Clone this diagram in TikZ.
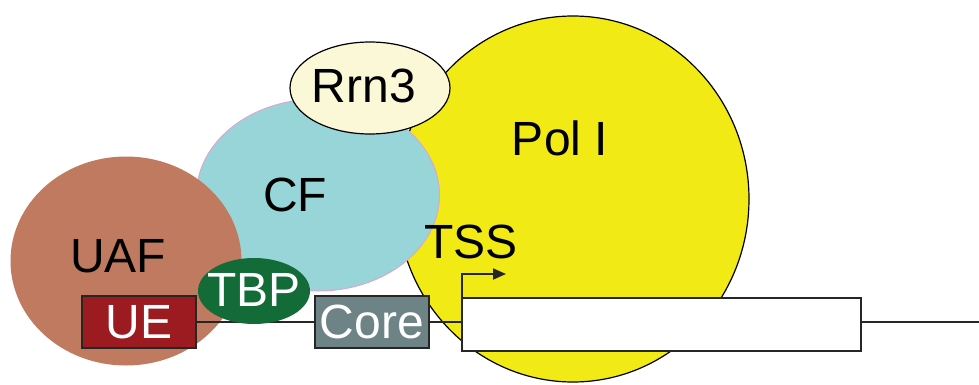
\documentclass[tikz,border=0pt]{standalone}
\usepackage{fontspec}
\setmainfont{Liberation Sans}
\usetikzlibrary{shapes.geometric,arrows.meta}
\definecolor{polY}{HTML}{F2EA14}
\definecolor{cfC}{HTML}{97D5D9}
\definecolor{cfE}{HTML}{D8A8D0}
\definecolor{uafB}{HTML}{C07A60}
\definecolor{rrnY}{HTML}{FBF8D7}
\definecolor{tbpG}{HTML}{136B38}
\definecolor{ueR}{HTML}{9B1B20}
\definecolor{coreG}{HTML}{6E8386}
\tikzset{
  blob/.style={ellipse, inner sep=0pt},
  lbl/.style={inner sep=0pt, font=\fontsize{48}{50}\selectfont},
  wlbl/.style={lbl, text=white},
  elem/.style={draw=black!85, line width=1.8pt, inner sep=0pt},
  dna/.style={draw=black!85, line width=1.8pt}
}
\begin{document}
\begin{tikzpicture}[x=1pt,y=-1pt]
\useasboundingbox (0,0) rectangle (979,385);
% Pol I
\node[blob, fill=polY, draw=black, line width=1.2pt, minimum width=352pt, minimum height=366pt] (pol) at (573,199) {};
% CF
\node[blob, fill=cfC, draw=cfE, line width=1pt, minimum width=243pt, minimum height=192pt] (cf) at (318,195) {};
% UAF
\node[blob, fill=uafB, minimum width=231pt, minimum height=209pt] (uaf) at (126,261) {};
% Rrn3
\node[blob, fill=rrnY, draw=black, line width=1.2pt, minimum width=160pt, minimum height=92pt] (rrn) at (370,88) {};
% labels
\node[lbl] (polt) at (560,138) {Pol I};
\node[lbl] (rrnt) at (364,86) {Rrn3};
\node[lbl] (cft) at (295,195) {CF};
\node[lbl] (uaft) at (118,256) {UAF};
\node[lbl] (tsst) at (471,242) {TSS};
% DNA elements
\node[elem, fill=ueR, minimum width=114pt, minimum height=52pt] (ue) at (139,322) {};
\coordinate (dnaend) at (979,322);
\draw[dna] (ue.east) -- (dnaend);
\node[blob, fill=tbpG, minimum width=112pt, minimum height=66pt] (tbp) at (254,291) {};
\node[wlbl] (tbpt) at (254,290) {TBP};
\node[wlbl] (uet) at (ue.center) {UE};
\node[elem, fill=coreG, minimum width=114pt, minimum height=52pt] (core) at (372,322) {};
\node[wlbl] (coret) at (core.center) {Core};
\node[elem, fill=white, minimum width=399pt, minimum height=53pt] (gene) at (661.5,324.5) {};
% TSS arrow
\coordinate (tss0) at (462,322);
\coordinate (tss1) at (462,274);
\coordinate (tss2) at (506,274);
\draw[dna, -{Triangle[length=13pt,width=11pt]}] (tss0) -- (tss1) -- (tss2);
\end{tikzpicture}
\end{document}
